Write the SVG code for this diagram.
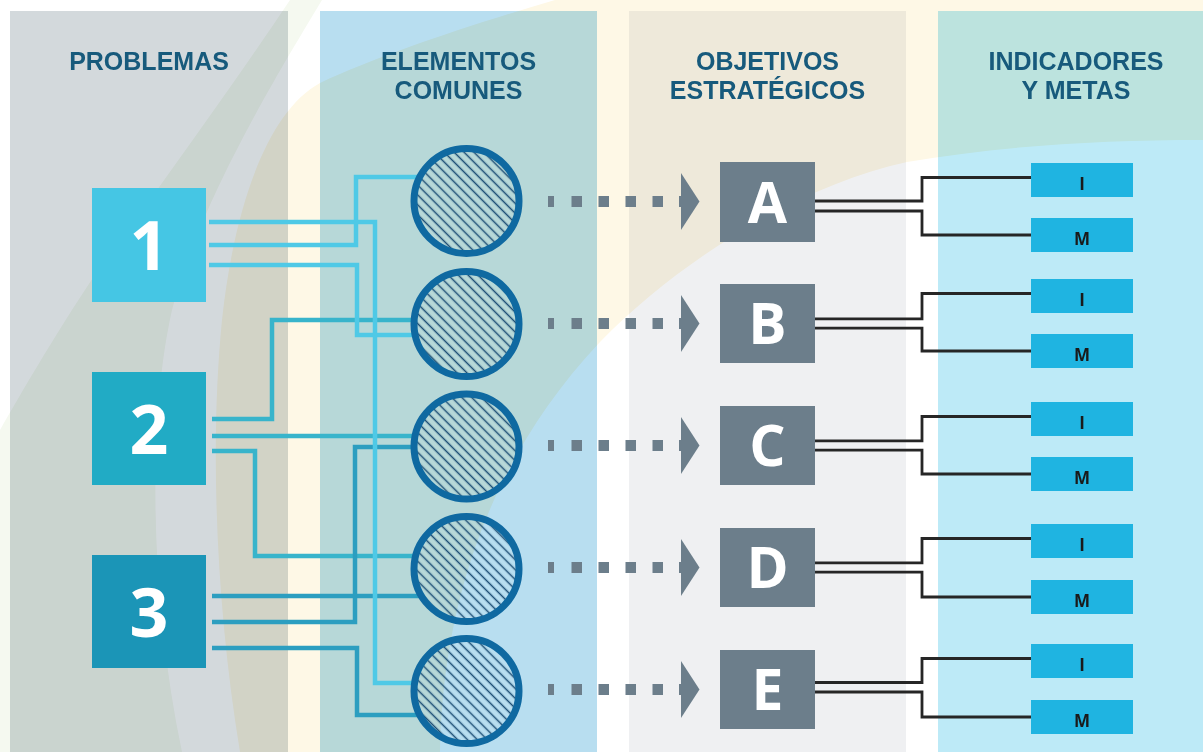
<svg xmlns="http://www.w3.org/2000/svg" width="1203" height="752" viewBox="0 0 1203 752">
<style>
.hdr{font-family:"Liberation Sans",Arial,sans-serif;font-weight:700;font-size:25px;fill:#175a7c;text-anchor:middle}
.num{font-family:"Open Sans","Liberation Sans",sans-serif;font-weight:700;font-size:68px;fill:#ffffff;text-anchor:middle}
.let{font-family:"Open Sans","Liberation Sans",sans-serif;font-weight:700;font-size:57px;fill:#ffffff;text-anchor:middle}
.im{font-family:"Open Sans","Liberation Sans",sans-serif;font-weight:700;font-size:17px;fill:#1a1a1a;text-anchor:middle}
.obj{fill:#6c7e8b}
.imbox{fill:#1fb4e1}
.ring{fill:url(#hatch);stroke:#0f69a1;stroke-width:7}
.l1{fill:none;stroke:#4fc9e6;stroke-width:4.5}
.l2{fill:none;stroke:#38b4cb;stroke-width:4.5}
.l3{fill:none;stroke:#2c9ec0;stroke-width:4.5}
.blk{fill:none;stroke:#262626;stroke-width:2.8}
.dash{fill:#6c7e8b}
</style>
<defs>
<pattern id="hatch" patternUnits="userSpaceOnUse" width="7" height="7" patternTransform="rotate(45)">
<line x1="0" y1="3.5" x2="7" y2="3.5" stroke="#1d4e75" stroke-width="1.5"/>
</pattern>
<g id="darrow">
<rect class="dash" x="548" y="-5.5" width="6" height="11"/>
<rect class="dash" x="571.5" y="-5.5" width="10.5" height="11"/>
<rect class="dash" x="598.5" y="-5.5" width="10.5" height="11"/>
<rect class="dash" x="625.5" y="-5.5" width="10.5" height="11"/>
<rect class="dash" x="652.5" y="-5.5" width="10.5" height="11"/>
<rect class="dash" x="679" y="-5.5" width="3" height="11"/>
<polygon class="dash" points="681,-28.5 699.5,0 681,28.5"/>
</g>
</defs>

<g id="background">
<rect x="0" y="0" width="1203" height="752" fill="#ffffff"/>
<rect x="10" y="11" width="278" height="741" fill="#d3d9dc"/>
<rect x="320" y="11" width="277" height="741" fill="#b8def0"/>
<rect x="629" y="11" width="277" height="741" fill="#eff0f2"/>
<rect x="938" y="11" width="265" height="741" fill="#bdeaf7"/>
<path style="mix-blend-mode:multiply" fill="#f5f9f0" d="M290,0 L322,0 C280,70 200,200 172,310 C147,420 150,600 182,752 L0,752 L0,430 C40,360 100,260 150,200 C200,130 250,60 290,0 Z"/>
<path style="mix-blend-mode:multiply" fill="#fef8e6" d="M1203,0 L555,0 C470,25 380,55 320,83 C270,110 235,200 222,320 C210,440 215,600 240,752 L440,752 C442,640 470,480 600,342 C680,260 800,185 907,162 C1000,146 1100,140 1203,140 Z"/>
</g>

<g id="headers">
<text class="hdr" x="149" y="70">PROBLEMAS</text>
<text class="hdr" x="458.5" y="70">ELEMENTOS</text>
<text class="hdr" x="458.5" y="99">COMUNES</text>
<text class="hdr" x="767.5" y="70">OBJETIVOS</text>
<text class="hdr" x="767.5" y="99">ESTRATÉGICOS</text>
<text class="hdr" x="1076" y="70">INDICADORES</text>
<text class="hdr" x="1076" y="99">Y METAS</text>
</g>

<g id="connectors">
<path class="l2" d="M212,419 H272 V320 H414.2"/>
<path class="l2" d="M212,436 H415"/>
<path class="l2" d="M212,451 H255 V556 H415.6"/>
<path class="l3" d="M212,596 H421.5"/>
<path class="l3" d="M212,622 H355 V447 H414"/>
<path class="l3" d="M212,648 H357 V715 H419.8"/>
<path class="l1" d="M209,222 H375 V683 H414.6"/>
<path class="l1" d="M209,245 H356 V177 H419.8"/>
<path class="l1" d="M209,265 H357 V335 H415.2"/>
<use href="#darrow" transform="translate(0,201.5)"/>
<use href="#darrow" transform="translate(0,323.5)"/>
<use href="#darrow" transform="translate(0,445.5)"/>
<use href="#darrow" transform="translate(0,567.5)"/>
<use href="#darrow" transform="translate(0,689.5)"/>
<path class="blk" d="M815,201 H922 V177.5 H1031"/>
<path class="blk" d="M815,211 H922 V235 H1031"/>
<path class="blk" d="M815,318.8 H922 V293.5 H1031"/>
<path class="blk" d="M815,328.2 H922 V351 H1031"/>
<path class="blk" d="M815,440.8 H922 V416.5 H1031"/>
<path class="blk" d="M815,450.2 H922 V474 H1031"/>
<path class="blk" d="M815,562.8 H922 V538.5 H1031"/>
<path class="blk" d="M815,572.2 H922 V597 H1031"/>
<path class="blk" d="M815,682.5 H922 V658.5 H1031"/>
<path class="blk" d="M815,692 H922 V717 H1031"/>
</g>

<g id="problem-1"><rect x="92" y="188" width="114" height="114" fill="#45c6e4"/><text class="num" x="149" y="270">1</text></g>
<g id="problem-2"><rect x="92" y="372" width="114" height="113" fill="#21abc5"/><text class="num" x="149" y="454">2</text></g>
<g id="problem-3"><rect x="92" y="555" width="114" height="113" fill="#1b95b7"/><text class="num" x="149" y="637">3</text></g>

<g id="element-1"><circle class="ring" cx="466.5" cy="201" r="52.5"/></g>
<g id="element-2"><circle class="ring" cx="466.5" cy="324" r="52.5"/></g>
<g id="element-3"><circle class="ring" cx="466.5" cy="446.5" r="52.5"/></g>
<g id="element-4"><circle class="ring" cx="466.5" cy="569" r="52.5"/></g>
<g id="element-5"><circle class="ring" cx="466.5" cy="691" r="52.5"/></g>

<g id="objective-A"><rect class="obj" x="720" y="162" width="95" height="80"/><text class="let" x="767.5" y="222.5">A</text></g>
<g id="objective-B"><rect class="obj" x="720" y="284" width="95" height="79"/><text class="let" x="767.5" y="344">B</text></g>
<g id="objective-C"><rect class="obj" x="720" y="406" width="95" height="79"/><text class="let" x="767.5" y="466">C</text></g>
<g id="objective-D"><rect class="obj" x="720" y="528" width="95" height="79"/><text class="let" x="767.5" y="588">D</text></g>
<g id="objective-E"><rect class="obj" x="720" y="650" width="95" height="79"/><text class="let" x="767.5" y="710">E</text></g>

<g id="indicator-A"><rect class="imbox" x="1031" y="163" width="102" height="34"/><text class="im" x="1082" y="189.5">I</text></g>
<g id="meta-A"><rect class="imbox" x="1031" y="218" width="102" height="34"/><text class="im" x="1082" y="244.5">M</text></g>
<g id="indicator-B"><rect class="imbox" x="1031" y="279" width="102" height="34"/><text class="im" x="1082" y="305.5">I</text></g>
<g id="meta-B"><rect class="imbox" x="1031" y="334" width="102" height="34"/><text class="im" x="1082" y="360.5">M</text></g>
<g id="indicator-C"><rect class="imbox" x="1031" y="402" width="102" height="34"/><text class="im" x="1082" y="428.5">I</text></g>
<g id="meta-C"><rect class="imbox" x="1031" y="457" width="102" height="34"/><text class="im" x="1082" y="483.5">M</text></g>
<g id="indicator-D"><rect class="imbox" x="1031" y="524" width="102" height="34"/><text class="im" x="1082" y="550.5">I</text></g>
<g id="meta-D"><rect class="imbox" x="1031" y="580" width="102" height="34"/><text class="im" x="1082" y="606.5">M</text></g>
<g id="indicator-E"><rect class="imbox" x="1031" y="644" width="102" height="34"/><text class="im" x="1082" y="670.5">I</text></g>
<g id="meta-E"><rect class="imbox" x="1031" y="700" width="102" height="34"/><text class="im" x="1082" y="726.5">M</text></g>
</svg>
